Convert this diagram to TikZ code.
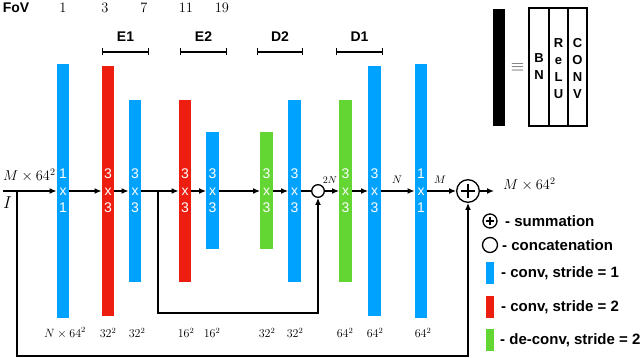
\documentclass[tikz,border=0pt]{standalone}
\usepackage{fontspec}
\newfontfamily\arial{Liberation Sans}
\usetikzlibrary{arrows.meta}
\definecolor{cblue}{RGB}{0,162,255}
\definecolor{cred}{RGB}{237,30,16}
\definecolor{cgreen}{RGB}{100,214,52}
\begin{document}
\begin{tikzpicture}[x=1pt,y=-1pt,
  bar/.style={minimum width=12.5pt, inner sep=0pt, draw=none, text=white, align=center,
    font=\arial\fontsize{14}{17}\selectfont},
  conn/.style={line width=1.3pt},
  arr/.style={conn, -{Latex[length=7pt,width=6pt]}},
  brk/.style={line width=1.3pt, {Bar[width=7pt]}-{Bar[width=7pt]}},
  lab/.style={font=\arial\bfseries\fontsize{14}{17}\selectfont},
  fov/.style={font=\fontsize{15}{17}\selectfont},
  dim/.style={font=\fontsize{11.5}{13}\selectfont},
  leg/.style={font=\arial\bfseries\fontsize{15}{18}\selectfont, anchor=west, inner sep=0pt},
  legsq/.style={inner sep=0pt, minimum width=8pt, minimum height=22pt},
  blk/.style={font=\arial\bfseries\fontsize{13}{17}\selectfont, align=center, inner sep=0pt}
]
\useasboundingbox (0,0) rectangle (640,358);

% FoV row
\node[lab, anchor=center] (fov) at (16,8) {FoV};
\node[fov] (f1) at (63,8) {$1$};
\node[fov] (f3) at (105,8) {$3$};
\node[fov] (f7) at (144,8) {$7$};
\node[fov] (f11) at (186,8) {$11$};
\node[fov] (f19) at (222,8) {$19$};

% bracket labels
\node[lab] (e1) at (125.5,37) {E1};
\node[lab] (e2) at (203.5,37) {E2};
\node[lab] (d2) at (280,37) {D2};
\node[lab] (d1) at (359.5,37) {D1};
\coordinate (e1a) at (102,52); \coordinate (e1b) at (149,52);
\coordinate (e2a) at (180,52); \coordinate (e2b) at (227,52);
\coordinate (d2a) at (257,52); \coordinate (d2b) at (303,52);
\coordinate (d1a) at (336,52); \coordinate (d1b) at (383,52);
\draw[brk] (e1a) -- (e1b);
\draw[brk] (e2a) -- (e2b);
\draw[brk] (d2a) -- (d2b);
\draw[brk] (d1a) -- (d1b);

% bars
\node[bar, fill=cblue, minimum height=253pt] (b1) at (63,191) {1\\x\\1};
\node[bar, fill=cred, minimum height=250pt] (b2) at (108,191) {3\\x\\3};
\node[bar, fill=cblue, minimum height=182pt] (b3) at (135,191) {3\\x\\3};
\node[bar, fill=cred, minimum height=182pt] (b4) at (185,191) {3\\x\\3};
\node[bar, fill=cblue, minimum height=117pt] (b5) at (212.5,191) {3\\x\\3};
\node[bar, fill=cgreen, minimum height=117pt] (b6) at (266.5,191) {3\\x\\3};
\node[bar, fill=cblue, minimum height=182pt] (b7) at (294.5,191) {3\\x\\3};
\node[bar, fill=cgreen, minimum height=182pt] (b8) at (345.5,191) {3\\x\\3};
\node[bar, fill=cblue, minimum height=250pt] (b9) at (374.5,191) {3\\x\\3};
\node[bar, fill=cblue, minimum height=253pt] (b10) at (421,191) {1\\x\\1};

% circles
\node[draw, circle, line width=1.3pt, minimum size=12.6pt, inner sep=0pt] (cat) at (318,191) {};
\node[draw, circle, line width=1.3pt, minimum size=22.6pt, inner sep=0pt] (sum) at (468,191) {};
\draw[conn] ([xshift=-6.7pt]sum.center) -- ([xshift=6.7pt]sum.center);
\draw[conn] ([yshift=-6.7pt]sum.center) -- ([yshift=6.7pt]sum.center);

% main line
\coordinate (in) at (3,191);
\coordinate (br1) at (17,191);
\coordinate (br2) at (158,191);
\coordinate (out) at (494,191);
\draw[arr] (in) -- (b1.west);
\draw[arr] (b1.east) -- (b2.west);
\draw[arr] (b2.east) -- (b3.west);
\draw[arr] (b3.east) -- (b4.west);
\draw[arr] (b4.east) -- (b5.west);
\draw[arr] (b5.east) -- (b6.west);
\draw[arr] (b6.east) -- (b7.west);
\draw[conn] (b7.east) -- (cat.west);
\draw[arr] (cat.east) -- (b8.west);
\draw[arr] (b8.east) -- (b9.west);
\draw[arr] (b9.east) -- (b10.west);
\draw[arr] (b10.east) -- (sum.west);
\draw[arr] (sum.east) -- (out);

% skip connections
\coordinate (c1) at (17,356);
\coordinate (c2) at (158,313);
\draw[arr] (br1) -- (c1) -| (sum.south);
\draw[arr] (br2) -- (c2) -| (cat.south);

% main line labels
\node[anchor=base west, inner sep=0pt, font=\fontsize{14}{16}\selectfont] (inlab) at (3,181) {$M\times 64^2$};
\node[anchor=base, inner sep=0pt, font=\fontsize{17}{19}\selectfont] (ilab) at (7.5,209) {$I$};
\node[anchor=base west, inner sep=0pt, font=\fontsize{14}{16}\selectfont] (outlab) at (503,190) {$M\times 64^2$};
\node[font=\fontsize{10}{12}\selectfont, inner sep=0pt] (l2n) at (330,180) {$2N$};
\node[font=\fontsize{11}{13}\selectfont, inner sep=0pt] (ln) at (397,180) {$N$};
\node[font=\fontsize{11}{13}\selectfont, inner sep=0pt] (lm) at (440,180) {$M$};

% bottom dims
\node[dim] (s1) at (65,333) {$N\times 64^2$};
\node[dim] (s2) at (108,333) {$32^2$};
\node[dim] (s3) at (137,333) {$32^2$};
\node[dim] (s4) at (186,333) {$16^2$};
\node[dim] (s5) at (212,333) {$16^2$};
\node[dim] (s6) at (267,333) {$32^2$};
\node[dim] (s7) at (295,333) {$32^2$};
\node[dim] (s8) at (345,333) {$64^2$};
\node[dim] (s9) at (375,333) {$64^2$};
\node[dim] (s10) at (423,333) {$64^2$};

% legend: block definition
\node[fill=black, minimum width=12pt, minimum height=117pt, inner sep=0pt] (blkbar) at (499,67.5) {};
\node[inner sep=0pt, text=black!70, font=\fontsize{18}{18}\selectfont] (eqv) at (517.5,67) {$\equiv$};
\node[draw, line width=1.2pt, minimum width=20pt, minimum height=118pt, inner sep=0pt] (bn) at (539,67) {};
\node[draw, line width=1.2pt, minimum width=19pt, minimum height=118pt, inner sep=0pt] (relu) at (558.5,67) {};
\node[draw, line width=1.2pt, minimum width=19pt, minimum height=118pt, inner sep=0pt] (cnv) at (577.5,67) {};
\node[blk] (tbn) at (539,67) {B\\N};
\node[blk] (trelu) at (558.5,68.5) {R\\e\\L\\U};
\node[blk] (tcnv) at (577.5,68.5) {C\\O\\N\\V};

% legend: symbols
\node[draw, circle, line width=1.3pt, minimum size=14pt, inner sep=0pt] (lsum) at (490,221) {};
\draw[conn] ([xshift=-4.3pt]lsum.center) -- ([xshift=4.3pt]lsum.center);
\draw[conn] ([yshift=-4.3pt]lsum.center) -- ([yshift=4.3pt]lsum.center);
\node[leg] (tsum) at (505,221) {- summation};
\node[draw, circle, line width=1.3pt, minimum size=15pt, inner sep=0pt] (lcat) at (490,245) {};
\node[leg] (tcat) at (502,245) {- concatenation};
\node[legsq, fill=cblue] (lb) at (490,273) {};
\node[leg] (tb) at (501,273) {- conv, stride = 1};
\node[legsq, fill=cred] (lr) at (490,307) {};
\node[leg] (tr) at (501,307) {- conv, stride = 2};
\node[legsq, fill=cgreen] (lg) at (490,340) {};
\node[leg] (tg) at (500,340) {- de-conv, stride = 2};
\end{tikzpicture}
\end{document}
